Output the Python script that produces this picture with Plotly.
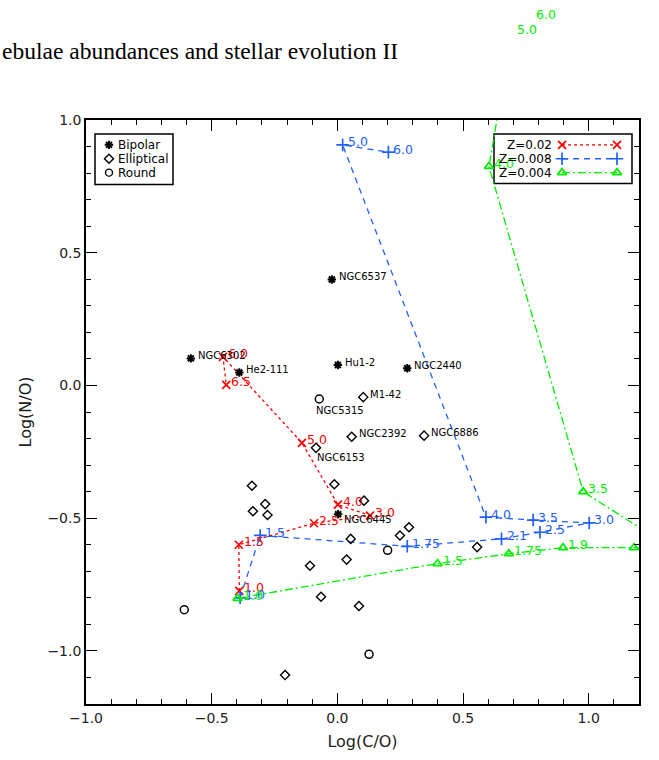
import plotly.graph_objects as go

# ---------------- Observed planetary nebulae ----------------
bip_names = ["NGC6537", "NGC6302", "He2-111", "Hu1-2", "NGC2440", "NGC6445"]
bip_x = [-0.022, -0.583, -0.390, 0.002, 0.278, 0.003]
bip_y = [0.399, 0.102, 0.049, 0.077, 0.065, -0.485]

ell_names = ["M1-42", "NGC2392", "NGC6886", "NGC6153", "", "", "", "", "", "",
             "", "", "", "", "", "", "", "", ""]
ell_x = [0.103, 0.057, 0.345, -0.085, -0.340, -0.012, -0.287, -0.336, -0.278, 0.106,
         0.285, 0.249, 0.053, 0.037, -0.109, 0.556, -0.065, 0.086, -0.208]
ell_y = [-0.044, -0.193, -0.189, -0.235, -0.378, -0.372, -0.447, -0.474, -0.488, -0.434,
         -0.534, -0.565, -0.578, -0.656, -0.679, -0.609, -0.796, -0.831, -1.091]

rnd_names = ["NGC5315", "", "", ""]
rnd_x = [-0.072, 0.200, -0.609, 0.126]
rnd_y = [-0.051, -0.621, -0.845, -1.013]

# ---------------- Model tracks (initial mass labels) ----------------
z02_mass = ["1.0", "1.5", "2.5", "3.0", "4.0", "5.0", "6.0", "6.5"]
z02_x = [-0.390, -0.392, -0.093, 0.130, 0.002, -0.141, -0.455, -0.442]
z02_y = [-0.774, -0.600, -0.519, -0.490, -0.449, -0.216, 0.108, 0.002]

z008_mass = ["1.0", "1.5", "1.75", "2.1", "2.5", "3.0", "3.5", "4.0", "5.0", "6.0"]
z008_x = [-0.387, -0.307, 0.278, 0.653, 0.806, 1.002, 0.779, 0.591, 0.021, 0.203]
z008_y = [-0.800, -0.565, -0.606, -0.578, -0.553, -0.518, -0.507, -0.496, 0.906, 0.879]

z004_mass = ["1.0", "1.5", "1.75", "1.9", "", "", "3.5", "4.0", "5.0", "6.0"]
z004_x = [-0.397, 0.399, 0.682, 0.898, 1.180, 1.350, 0.978, 0.603, 0.694, 0.770]
z004_y = [-0.802, -0.671, -0.634, -0.611, -0.611, -0.625, -0.400, 0.825, 1.331, 1.387]

XRANGE = [-1.0, 1.2]
YRANGE = [-1.2, 1.0]

RED = "#ff0000"
BLUE = "#2060ff"
GREEN = "#00ee00"
FONT = "DejaVu Sans"

W, H = 659, 760
ML, MR, MT, MB = 86, 20, 120, 52
PW, PH = W - ML - MR, H - MT - MB


def px(xs):  # screen pixel -> paper fraction
    return (xs - ML) / PW


def py(ys):
    return (H - MB - ys) / PH


def data_ref(xv, yv):
    """Reference for a label at a data point; points off the axis ranges are
    placed through the same axis scale but in paper units so they still show."""
    inside = XRANGE[0] <= xv <= XRANGE[1] and YRANGE[0] <= yv <= YRANGE[1]
    if inside:
        return dict(x=xv, y=yv, xref="x", yref="y")
    return dict(x=(xv - XRANGE[0]) / (XRANGE[1] - XRANGE[0]),
                y=(yv - YRANGE[0]) / (YRANGE[1] - YRANGE[0]),
                xref="paper", yref="paper")


fig = go.Figure()

# model tracks
tracks = [
    (z02_x, z02_y, z02_mass, RED, "dot", "x-thin-open", 8),
    (z008_x, z008_y, z008_mass, BLUE, "6px,5px", "cross-thin-open", 9),
    (z004_x, z004_y, z004_mass, GREEN, "8px,3px,2px,3px", "triangle-up-open", 8),
]
annotations = []
for xs, ys, labs, col, dash, sym, sz in tracks:
    fig.add_trace(go.Scatter(
        x=xs, y=ys, mode="lines+markers",
        line=dict(color=col, width=1.3, dash=dash),
        marker=dict(symbol=sym, size=sz, color=col, line=dict(color=col, width=1.7)),
        showlegend=False, hoverinfo="skip"))
    for xv, yv, lab in zip(xs, ys, labs):
        if lab:
            annotations.append(dict(
                text=lab, showarrow=False,
                xanchor="left", yanchor="middle", xshift=3, yshift=3,
                font=dict(family=FONT, size=12.5, color=col), **data_ref(xv, yv)))

# observed nebulae
obs = [
    (bip_x, bip_y, bip_names, "asterisk-open", 7, 2.0),
    (ell_x, ell_y, ell_names, "diamond-open", 7, 1.4),
    (rnd_x, rnd_y, rnd_names, "circle-open", 8, 1.5),
]
special = {
    "NGC5315": dict(xanchor="left", yanchor="top", xshift=-5, yshift=-4),
    "NGC6153": dict(xanchor="left", yanchor="top", xshift=-1, yshift=-2),
    "NGC6445": dict(xanchor="left", yanchor="middle", xshift=4, yshift=-5),
}
for xs, ys, names, sym, sz, lw in obs:
    fig.add_trace(go.Scatter(
        x=xs, y=ys, mode="markers",
        marker=dict(symbol=sym, size=sz, color="black", line=dict(color="black", width=lw)),
        showlegend=False, hoverinfo="skip"))
    for xv, yv, nm in zip(xs, ys, names):
        if nm:
            pos = special.get(nm, dict(xanchor="left", yanchor="middle", xshift=5, yshift=3))
            annotations.append(dict(
                x=xv, y=yv, xref="x", yref="y", text=nm, showarrow=False,
                font=dict(family=FONT, size=10, color="black"), **pos))

# ---------------- legends (drawn on an overlay axis in paper units) ----------------
rows = [145, 159, 173]
left_syms = [("asterisk-open", 7, 2.0, "Bipolar"), ("diamond-open", 7, 1.4, "Elliptical"),
             ("circle-open", 7, 1.4, "Round")]
for (sym, sz, lw, name), r in zip(left_syms, rows):
    fig.add_trace(go.Scatter(
        x=[px(109)], y=[py(r)], xaxis="x2", yaxis="y2", mode="markers",
        marker=dict(symbol=sym, size=sz, color="black", line=dict(color="black", width=lw)),
        showlegend=False, hoverinfo="skip", cliponaxis=False))
    annotations.append(dict(x=px(116), y=py(r), xref="paper", yref="paper", text=name,
                            showarrow=False, xanchor="left", yanchor="middle",
                            font=dict(family=FONT, size=12, color="black")))

right_items = [("Z=0.02", RED, "dot", "x-thin-open", 8),
               ("Z=0.008", BLUE, "6px,5px", "cross-thin-open", 9),
               ("Z=0.004", GREEN, "8px,3px,2px,3px", "triangle-up-open", 8)]
for (name, col, dash, sym, sz), r in zip(right_items, rows):
    fig.add_trace(go.Scatter(
        x=[px(562), px(617)], y=[py(r), py(r)], xaxis="x2", yaxis="y2",
        mode="lines+markers", line=dict(color=col, width=1.3, dash=dash),
        marker=dict(symbol=sym, size=sz, color=col, line=dict(color=col, width=1.7)),
        showlegend=False, hoverinfo="skip", cliponaxis=False))
    annotations.append(dict(x=px(554), y=py(r), xref="paper", yref="paper", text=name,
                            showarrow=False, xanchor="right", yanchor="middle",
                            font=dict(family=FONT, size=12, color="black")))

shapes = [
    dict(type="rect", xref="paper", yref="paper", x0=px(95), x1=px(173), y0=py(185), y1=py(134),
         line=dict(color="black", width=1.5), fillcolor="rgba(0,0,0,0)"),
    dict(type="rect", xref="paper", yref="paper", x0=px(494), x1=px(632), y0=py(184), y1=py(134),
         line=dict(color="black", width=1.5), fillcolor="white", layer="below"),
]

# page header fragment
annotations.append(dict(x=px(0), y=py(51), xref="paper", yref="paper",
                        text="ebulae abundances and stellar evolution II", showarrow=False,
                        xanchor="left", yanchor="middle",
                        font=dict(family="Liberation Serif", size=23.5, color="black")))

axis_common = dict(
    showgrid=False, zeroline=False, showline=True, linecolor="black", linewidth=1.6,
    mirror="allticks", ticks="inside", ticklen=11, tickwidth=1, tickcolor="black",
    minor=dict(ticks="inside", ticklen=5, dtick=0.1, tickwidth=1, tickcolor="black", showgrid=False),
    tickfont=dict(family=FONT, size=14, color="#222222"),
)

fig.update_layout(
    width=W, height=H,
    margin=dict(l=ML, r=MR, t=MT, b=MB),
    paper_bgcolor="white", plot_bgcolor="white",
    xaxis=dict(range=XRANGE, tickvals=[-1.0, -0.5, 0.0, 0.5, 1.0], tickformat=".1f",
               title=dict(text="Log(C/O)", font=dict(family=FONT, size=16, color="#222222"), standoff=11),
               **axis_common),
    yaxis=dict(range=YRANGE, tickvals=[-1.0, -0.5, 0.0, 0.5, 1.0], tickformat=".1f",
               title=dict(text="Log(N/O)", font=dict(family=FONT, size=16, color="#222222"), standoff=12),
               **axis_common),
    xaxis2=dict(range=[0, 1], overlaying="x", visible=False, fixedrange=True),
    yaxis2=dict(range=[0, 1], overlaying="y", visible=False, fixedrange=True),
    annotations=annotations,
    shapes=shapes,
    showlegend=False,
)

fig.write_html("out.html", config={"displayModeBar": False},
               post_script="document.body.style.margin='0px';")
